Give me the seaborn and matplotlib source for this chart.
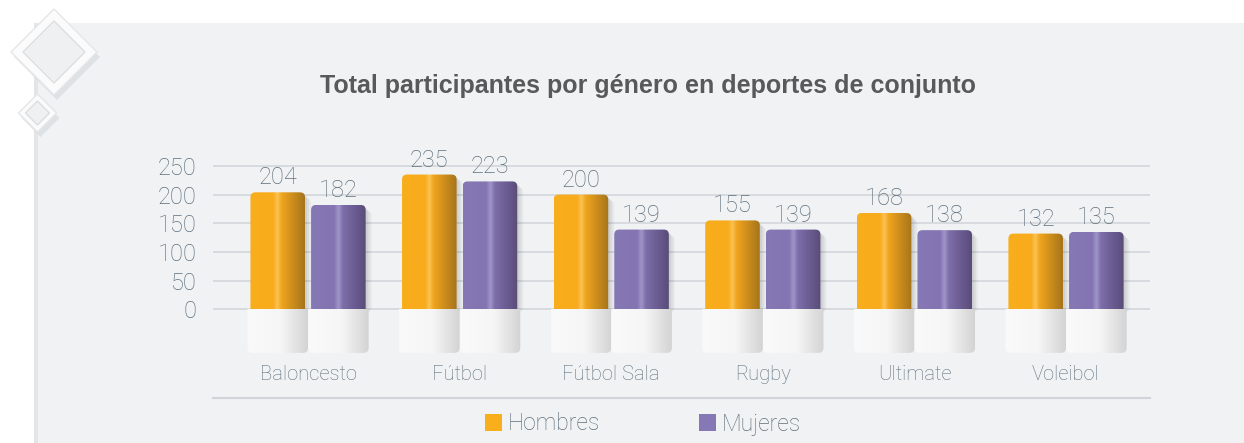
import matplotlib
matplotlib.use("Agg")
import matplotlib.pyplot as plt
import numpy as np
import pandas as pd
import seaborn as sns
from matplotlib.patches import FancyBboxPatch, Rectangle, Polygon, Patch
from matplotlib.colors import to_rgb

# datos
deportes = ["Baloncesto", "Fútbol", "Fútbol Sala", "Rugby", "Ultimate", "Voleibol"]
hombres = [204, 235, 200, 155, 168, 132]
mujeres = [182, 223, 139, 139, 138, 135]
generos = ["Hombres", "Mujeres"]
y_ticks = [0, 50, 100, 150, 200, 250]
titulo = "Total participantes por género en deportes de conjunto"

colores = {"Hombres": "#F9AE1C", "Mujeres": "#8677B5"}
# degradados horizontales (posicion, color) para imitar el efecto 3D
degradados = {
    "Hombres": [(0, "#F9AE1C"), (0.42, "#F8AB1C"), (0.5, "#FBC352"), (0.58, "#F0A41D"), (1, "#A5741B")],
    "Mujeres": [(0, "#8677B5"), (0.42, "#8474B2"), (0.5, "#A095C9"), (0.58, "#7D6EAA"), (1, "#594C79")],
}
degradado_base = [(0, "#FAFAFA"), (0.55, "#F6F6F6"), (1, "#D3D3D3")]

W, H = 1244, 443
texto_gris = "#5F707C"


def gradiente(stops, n=256):
    t = np.linspace(0, 1, n)
    pos = [s[0] for s in stops]
    cols = np.array([to_rgb(s[1]) for s in stops])
    img = np.stack([np.interp(t, pos, cols[:, k]) for k in range(3)], axis=-1)
    return img[np.newaxis, :, :]


def px(x, y):
    return (x / W, 1 - y / H)


sns.set_style("white")
plt.rcParams["font.family"] = ["Roboto", "DejaVu Sans"]

df = pd.DataFrame({
    "deporte": deportes * 2,
    "genero": ["Hombres"] * len(deportes) + ["Mujeres"] * len(deportes),
    "total": hombres + mujeres,
})

fig = plt.figure(figsize=(W / 100, H / 100), dpi=100)
fig.patch.set_facecolor("white")

# panel gris de fondo
fig.patches.append(Rectangle(px(35, H), 1 - 35 / W, 1 - 23 / H, transform=fig.transFigure,
                             facecolor="#F0F2F4", edgecolor="none", zorder=-10))
fig.patches.append(Rectangle(px(34, H), 4 / W, 1 - 23 / H, transform=fig.transFigure,
                             facecolor="#E3E5E7", edgecolor="none", zorder=-9))

# rombos decorativos
for cx, cy, r_out, r_in in [(54, 52, 43, 31), (37.5, 113, 19, 12)]:
    sombra = [px(cx + 3, cy - r_out + 5), px(cx + r_out + 3, cy + 5), px(cx + 3, cy + r_out + 5), px(cx - r_out + 3, cy + 5)]
    fig.patches.append(Polygon(sombra, closed=True, transform=fig.transFigure,
                               facecolor="#D5D8DB", edgecolor="none", alpha=0.6, zorder=-8))
    fuera = [px(cx, cy - r_out), px(cx + r_out, cy), px(cx, cy + r_out), px(cx - r_out, cy)]
    fig.patches.append(Polygon(fuera, closed=True, transform=fig.transFigure,
                               facecolor="#FBFBFB", edgecolor="#E4E6E8", lw=1, zorder=-7))
    dentro = [px(cx, cy - r_in), px(cx + r_in, cy), px(cx, cy + r_in), px(cx - r_in, cy)]
    fig.patches.append(Polygon(dentro, closed=True, transform=fig.transFigure,
                               facecolor="#EEF0F2", edgecolor="#DCDEE0", lw=1, zorder=-6))

# ejes
ax = fig.add_axes([213 / W, 45 / H, 937 / W, (398 - 160.2) / H])
ax.set_facecolor("none")

sns.barplot(data=df, x="deporte", y="total", hue="genero", palette=colores,
            width=0.8, gap=0.1, saturation=1, legend=False, ax=ax, zorder=3)

xlim = (-0.627, 5.554)
ylim = (-154.7, 260)
ux = 937 / (xlim[1] - xlim[0])          # px por unidad x
uy = (398 - 160.2) / (ylim[1] - ylim[0])  # px por unidad y
rx = 5 / ux
ry = 5 / uy

for cont, gen in zip(ax.containers, generos):
    for bar in cont:
        x0, w, h = bar.get_x(), bar.get_width(), bar.get_height()
        bar.set_visible(False)

        # sombra suave
        for k, a in [(6, 0.04), (4, 0.05), (2, 0.06)]:
            ax.add_patch(FancyBboxPatch((x0 + k / ux, -5), w, h + 5 - k / uy,
                                        boxstyle=f"round,pad=0,rounding_size={rx}",
                                        mutation_aspect=ry / rx, facecolor="black",
                                        edgecolor="none", alpha=a, zorder=2))

        # barra redondeada con degradado
        forma = FancyBboxPatch((x0, -20), w, h + 20, boxstyle=f"round,pad=0,rounding_size={rx}",
                               mutation_aspect=ry / rx, facecolor="none", edgecolor="none")
        ax.add_patch(forma)
        im = ax.imshow(gradiente(degradados[gen]), extent=[x0, x0 + w, -20, h],
                       aspect="auto", interpolation="bilinear", zorder=3)
        im.set_clip_path(forma)

        # base blanca bajo el cero
        bx0, bw = x0 - 3 / ux, w + 6 / ux
        base_y0 = -76
        forma_b = FancyBboxPatch((bx0, base_y0), bw, -base_y0 + 20,
                                 boxstyle=f"round,pad=0,rounding_size={rx}",
                                 mutation_aspect=ry / rx, facecolor="none", edgecolor="none")
        ax.add_patch(forma_b)
        imb = ax.imshow(gradiente(degradado_base), extent=[bx0, bx0 + bw, base_y0, 0],
                        aspect="auto", interpolation="bilinear", zorder=4)
        imb.set_clip_path(forma_b)

        ax.text(x0 + w / 2, h + 14, f"{h:.0f}", ha="center", va="baseline",
                fontsize=17, color=texto_gris, fontweight="light", zorder=5)

ax.set_xlim(*xlim)
ax.set_ylim(*ylim)

# etiquetas de categoria
for i, d in enumerate(deportes):
    ax.text(i, -113, d, ha="center", va="center", fontsize=14.5,
            color=texto_gris, fontweight="light")

ax.set_xticks([])
ax.set_yticks(y_ticks)
ax.set_yticklabels([str(t) for t in y_ticks])
ax.tick_params(axis="y", length=0, pad=12, labelsize=17, labelcolor=texto_gris)
for lab in ax.get_yticklabels():
    lab.set_fontweight("light")
ax.set_xlabel("")
ax.set_ylabel("")
ax.yaxis.grid(True, color="#D3D6DA", lw=1.2)
ax.xaxis.grid(False)
ax.set_axisbelow(True)
for s in ["top", "left", "right"]:
    ax.spines[s].set_visible(False)
ax.spines["bottom"].set_color("#D0D3D7")
ax.spines["bottom"].set_linewidth(1.5)

# titulo
fig.text(648 / W, 1 - 86 / H, titulo, ha="center", va="center", fontsize=18,
         fontweight="bold", color="#58595B", family=["Liberation Sans", "DejaVu Sans"])

# leyenda
handles = [Patch(facecolor=colores[g], edgecolor="none") for g in generos]
leg = fig.legend(handles, generos, loc="center", bbox_to_anchor=(643 / W, 1 - 424 / H),
                 ncol=2, frameon=False, fontsize=16.5, handlelength=0.75, handleheight=0.75,
                 handletextpad=0.25, columnspacing=4.3)
for t in leg.get_texts():
    t.set_color(texto_gris)
    t.set_fontweight("light")

fig.savefig("out.png", dpi=100, facecolor="white")
